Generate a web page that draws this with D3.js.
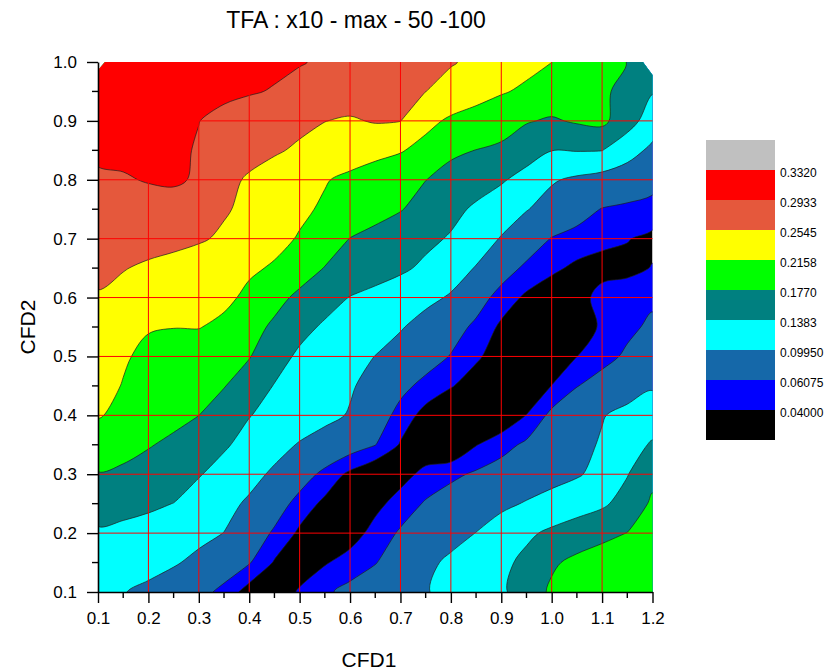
<!DOCTYPE html>
<html>
<head>
<meta charset="utf-8">
<script src="https://cdn.jsdelivr.net/npm/d3@7"></script>
<style>
  body { margin: 0; background: #ffffff; }
  svg { display: block; font-family: "Liberation Sans", Arial, Helvetica, sans-serif; }
</style>
</head>
<body>
<svg id="chart" width="833" height="671"></svg>
<script>
// Sample positions of the TFA grid
const cfd1 = [0.10, 0.15, 0.20, 0.25, 0.30, 0.35, 0.40, 0.45, 0.50, 0.55, 0.60, 0.65,
              0.70, 0.75, 0.80, 0.85, 0.90, 0.95, 1.00, 1.05, 1.10, 1.15, 1.20];
const cfd2 = [1.00, 0.95, 0.90, 0.85, 0.80, 0.75, 0.70, 0.65, 0.60, 0.55,
              0.50, 0.45, 0.40, 0.35, 0.30, 0.25, 0.20, 0.15, 0.10];

// TFA values, one row per CFD2 value (top row = 1.00), one column per CFD1 value
const tfa = [
  [.325,.322,.317,.311,.308,.305,.303,.299,.295,.2894,.283,.2765,.270,.2633,.2569,.2478,.2372,.2266,.2160,.2025,.1892,.1765,.165],
  [.316,.316,.311,.305,.301,.299,.2957,.2915,.2845,.2786,.2726,.2666,.2606,.2547,.2431,.2311,.2192,.2094,.2005,.1915,.1826,.1669,.1402],
  [.307,.308,.306,.300,.2937,.2859,.2782,.2704,.2626,.2550,.2510,.2570,.2550,.2264,.2096,.1995,.1895,.1795,.173,.181,.186,.1535,.120],
  [.2984,.2999,.3048,.299,.291,.2801,.2692,.2584,.2495,.2417,.234,.2264,.2187,.2034,.1827,.1765,.1718,.1554,.139,.140,.139,.1152,.091],
  [.2893,.2909,.2950,.2969,.2902,.2665,.2493,.239,.2286,.2181,.208,.1979,.1879,.1775,.166,.1543,.1425,.1246,.103,.0932,.0853,.0775,.0697],
  [.280,.279,.2813,.282,.266,.258,.2465,.2344,.2223,.211,.2002,.1894,.1789,.1639,.1484,.1326,.1168,.1012,.0859,.0707,.0597,.0561,.0525],
  [.2706,.2675,.2669,.2647,.2585,.2491,.2375,.2258,.2131,.1944,.1763,.1664,.1565,.1466,.1349,.1162,.0974,.0768,.0595,.0533,.0471,.041,.035],
  [.2612,.256,.2495,.2425,.2355,.2285,.2214,.212,.1933,.1758,.1654,.155,.1446,.1315,.1148,.0976,.0731,.0557,.045,.035,.030,.034,.041],
  [.2521,.2448,.2347,.232,.2316,.2243,.2077,.1879,.1696,.153,.137,.1273,.1175,.1078,.0961,.0725,.0516,.036,.025,.028,.050,.052,.056],
  [.2435,.2336,.2178,.2165,.2172,.2073,.1898,.171,.1495,.1331,.1227,.1124,.1021,.0873,.072,.0556,.036,.026,.020,.026,.0436,.0549,.0658],
  [.235,.219,.2092,.2014,.194,.1863,.1789,.1532,.1319,.1209,.1099,.099,.086,.0729,.0594,.0432,.030,.020,.022,.0398,.0519,.0652,.0807],
  [.226,.2145,.2059,.1968,.1875,.1786,.1581,.1367,.1255,.1144,.1032,.087,.0679,.0535,.0415,.030,.018,.022,.0405,.0598,.0721,.084,.0957],
  [.218,.2084,.198,.1875,.1772,.1584,.1395,.1285,.1183,.1084,.0969,.0749,.0526,.032,.020,.014,.022,.0405,.067,.0823,.0976,.109,.1197],
  [.198,.188,.1795,.1694,.156,.1423,.1273,.1117,.0969,.085,.0733,.0614,.038,.025,.018,.039,.0524,.0652,.0776,.0895,.1028,.1239,.142],
  [.175,.171,.1623,.1557,.1405,.1265,.1105,.0937,.0737,.0542,.035,.020,.032,.046,.0555,.0642,.0718,.0795,.0872,.096,.1103,.1367,.1667],
  [.153,.148,.144,.1378,.1237,.1097,.0944,.0741,.0519,.035,.020,.034,.0484,.0632,.073,.0826,.0922,.1021,.1123,.1224,.1325,.1523,.183],
  [.134,.131,.126,.118,.109,.099,.0781,.057,.036,.022,.030,.0474,.0638,.0758,.088,.1001,.1162,.1321,.145,.1558,.1666,.1777,.19],
  [.125,.121,.113,.103,.0911,.0768,.0625,.038,.023,.038,.0487,.0595,.0754,.092,.1057,.118,.1302,.1465,.1717,.186,.196,.204,.21],
  [.110,.101,.0908,.0803,.0695,.0539,.030,.020,.0435,.0568,.0677,.0776,.0875,.0975,.109,.1208,.1327,.1556,.183,.192,.199,.205,.21]
];

// Contour levels and their legend labels
const levels = [0.04, 0.06075, 0.0995, 0.1383, 0.1770, 0.2158, 0.2545, 0.2933, 0.3320];
const levelLabels = ["0.04000", "0.06075", "0.09950", "0.1383", "0.1770", "0.2158", "0.2545", "0.2933", "0.3320"];
// Fill below the first level, then above each level in turn
const bandColors = ["#000000", "#0000ff", "#1568a9", "#00ffff", "#008080",
                    "#00ff00", "#ffff00", "#e5583c", "#ff0000", "#c0c0c0"];

// Axis ticks
const xTicks = [0.1, 0.2, 0.3, 0.4, 0.5, 0.6, 0.7, 0.8, 0.9, 1.0, 1.1, 1.2];
const xMinor = [0.15, 0.25, 0.35, 0.45, 0.55, 0.65, 0.75, 0.85, 0.95, 1.05, 1.15];
const yTicks = [0.1, 0.2, 0.3, 0.4, 0.5, 0.6, 0.7, 0.8, 0.9, 1.0];
const yMinor = [0.15, 0.25, 0.35, 0.45, 0.55, 0.65, 0.75, 0.85, 0.95];

// Outline of the sampled area (corners at the top are not covered)
const dataHull = [[0.1, 0.1], [0.1, 0.986], [0.114, 1.0], [1.181, 1.0], [1.2, 0.978], [1.2, 0.1]];

const svg = d3.select("#chart");
const x = d3.scaleLinear().domain([0.1, 1.2]).range([98, 652.5]);
const y = d3.scaleLinear().domain([0.1, 1.0]).range([592, 62]);

// Clip region
const hullPoints = dataHull.map(([a, b]) => [x(a), y(b)].join(",")).join(" ");
svg.append("defs").append("clipPath").attr("id", "plotClip")
  .append("polygon").attr("points", hullPoints);

const plot = svg.append("g").attr("clip-path", "url(#plotClip)");

// Lowest band as the background
plot.append("polygon").attr("points", hullPoints).attr("fill", bandColors[0]);

// Filled contours
const nx = cfd1.length, ny = cfd2.length;
const stepX = cfd1[1] - cfd1[0], stepY = cfd2[1] - cfd2[0];
const contours = d3.contours().size([nx, ny]).thresholds(levels)(tfa.flat());

// Grid coordinates (sample i sits at i + 0.5) to pixels
const toPixel = ([u, v]) => [x(cfd1[0] + (u - 0.5) * stepX), y(cfd2[0] + (v - 0.5) * stepY)];
const ringLine = d3.line().curve(d3.curveCatmullRomClosed.alpha(0.5));
function bandPath(geometry) {
  let d = "";
  geometry.coordinates.forEach(polygon => {
    polygon.forEach(ring => {
      const pts = ring.slice(0, -1).map(toPixel);
      if (pts.length > 2) d += ringLine(pts);
    });
  });
  return d;
}

plot.selectAll("path.band")
  .data(contours)
  .join("path")
  .attr("class", "band")
  .attr("d", bandPath)
  .attr("fill-rule", "evenodd")
  .attr("fill", (d, i) => bandColors[i + 1])
  .attr("stroke", "#1e1e1e")
  .attr("stroke-width", 0.7)
  .attr("stroke-linejoin", "round");

// Red grid lines
const grid = svg.append("g").attr("stroke", "#ff0000").attr("stroke-width", 1);
grid.selectAll("line.gx").data(xTicks.slice(1, -1)).join("line")
  .attr("x1", d => x(d)).attr("x2", d => x(d))
  .attr("y1", y(0.1)).attr("y2", y(1.0));
grid.selectAll("line.gy").data(yTicks.slice(1, -1)).join("line")
  .attr("y1", d => y(d)).attr("y2", d => y(d))
  .attr("x1", x(0.1)).attr("x2", x(1.2));

// Axes
const fmt = d3.format(".1f");
const xAxisG = svg.append("g").attr("transform", `translate(0,${y(0.1)})`)
  .call(d3.axisBottom(x).tickValues(xTicks).tickFormat(fmt).tickSize(11).tickSizeOuter(0).tickPadding(9));
const yAxisG = svg.append("g").attr("transform", `translate(${x(0.1)},0)`)
  .call(d3.axisLeft(y).tickValues(yTicks).tickFormat(fmt).tickSize(11).tickSizeOuter(0).tickPadding(10));

[xAxisG, yAxisG].forEach(g => {
  g.select(".domain").attr("stroke", "#000").attr("stroke-width", 1.6);
  g.selectAll(".tick line").attr("stroke", "#000").attr("stroke-width", 1.4);
  g.selectAll(".tick text").attr("fill", "#000").style("font-size", "17px")
    .style("font-family", "'Liberation Sans', Arial, sans-serif");
});

// Minor ticks
xAxisG.selectAll("line.minor").data(xMinor).join("line")
  .attr("class", "minor")
  .attr("x1", d => x(d)).attr("x2", d => x(d))
  .attr("y1", 0).attr("y2", 6)
  .attr("stroke", "#000").attr("stroke-width", 1.4);
yAxisG.selectAll("line.minor").data(yMinor).join("line")
  .attr("class", "minor")
  .attr("y1", d => y(d)).attr("y2", d => y(d))
  .attr("x1", 0).attr("x2", -6)
  .attr("stroke", "#000").attr("stroke-width", 1.4);

// Titles
svg.append("text").attr("x", 356).attr("y", 28)
  .attr("text-anchor", "middle").style("font-size", "23px")
  .text("TFA : x10 - max - 50 -100");
svg.append("text").attr("x", 369).attr("y", 667)
  .attr("text-anchor", "middle").style("font-size", "21px")
  .text("CFD1");
svg.append("text").attr("transform", "translate(35,327) rotate(-90)")
  .attr("text-anchor", "middle").style("font-size", "21px")
  .text("CFD2");

// Legend
const legendColors = bandColors.slice().reverse();
const legendY = d3.scaleLinear().domain([0, legendColors.length]).range([140, 440]);
const legend = svg.append("g");
legend.selectAll("rect").data(legendColors).join("rect")
  .attr("x", 706).attr("width", 69)
  .attr("y", (d, i) => legendY(i))
  .attr("height", (d, i) => legendY(i + 1) - legendY(i))
  .attr("fill", d => d);
legend.selectAll("text").data(levelLabels.slice().reverse()).join("text")
  .attr("x", 780)
  .attr("y", (d, i) => legendY(i + 1) + 3)
  .attr("dy", "0.35em")
  .style("font-size", "12px")
  .text(d => d);
</script>
</body>
</html>
